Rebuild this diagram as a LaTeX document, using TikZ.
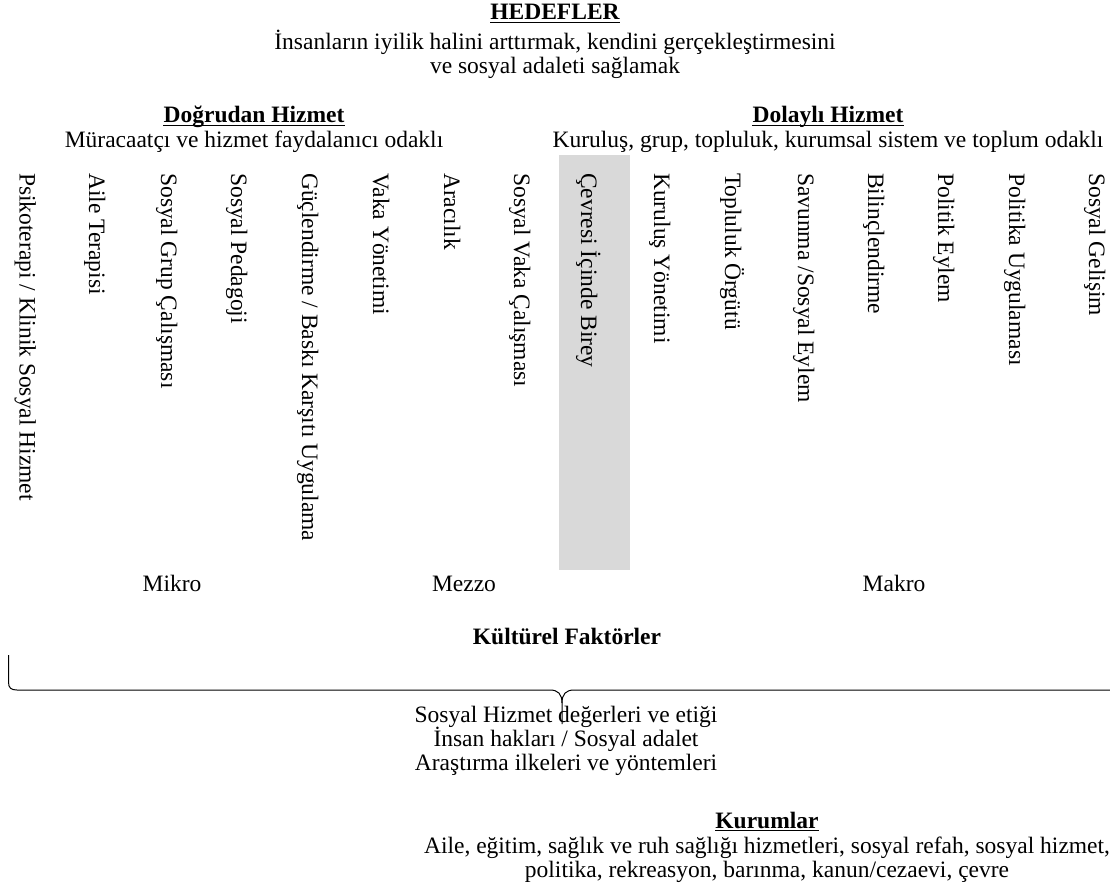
\documentclass[tikz,border=0pt]{standalone}
\usepackage{fontspec}
\setmainfont{Liberation Serif}
\definecolor{boxgray}{RGB}{217,217,217}
\begin{document}
\begin{tikzpicture}[x=1pt,y=-1pt,
  txt/.style={inner sep=0pt, anchor=base, font=\fontsize{23.5}{24}\selectfont},
  head/.style={inner sep=0pt, anchor=base, font=\fontsize{23.5}{24}\selectfont\bfseries},
  vlab/.style={inner sep=0pt, anchor=base west, rotate=-90, font=\fontsize{23.5}{24}\selectfont},
  uline/.style={draw=black, line width=1.1pt},
  brace/.style={draw=black, line width=1pt}]
\useasboundingbox (0,0) rectangle (1110,890);
% goals
\node[head] (hed) at (555,20) {HEDEFLER};
\node[txt] (hed1) at (555,50) {İnsanların iyilik halini arttırmak, kendini gerçekleştirmesini};
\node[txt] (hed2) at (555,74) {ve sosyal adaleti sağlamak};
% service headers
\node[head] (dog) at (254,123) {Doğrudan Hizmet};
\node[txt] (dog1) at (254,148) {Müracaatçı ve hizmet faydalanıcı odaklı};
\node[head] (dol) at (828,123) {Dolaylı Hizmet};
\node[txt] (dol1) at (828,148) {Kuruluş, grup, topluluk, kurumsal sistem ve toplum odaklı};
% underlines
\foreach \n in {hed,dog,dol}
  \draw[uline] ([yshift=-2.5pt]\n.base west) -- ([yshift=-2.5pt]\n.base east);
% gray box
\fill[boxgray] (559,155) rectangle (630,570);
% vertical labels
\node[vlab] (v1) at (19.7,173) {Psikoterapi / Klinik Sosyal Hizmet};
\node[vlab] (v2) at (89,173) {Aile Terapisi};
\node[vlab] (v3) at (161,173) {Sosyal Grup Çalışması};
\node[vlab] (v4) at (231,173) {Sosyal Pedagoji};
\node[vlab] (v5) at (302,173) {Güçlendirme / Baskı Karşıtı Uygulama};
\node[vlab] (v6) at (373,173) {Vaka Yönetimi};
\node[vlab] (v7) at (444,173) {Aracılık};
\node[vlab] (v8) at (514,173) {Sosyal Vaka Çalışması};
\node[vlab] (v9) at (581,173) {Çevresi İçinde Birey};
\node[vlab] (v10) at (654,173) {Kuruluş Yönetimi};
\node[vlab] (v11) at (725,173) {Topluluk Örgütü};
\node[vlab] (v12) at (798,173) {Savunma /Sosyal Eylem};
\node[vlab] (v13) at (868,173) {Bilinçlendirme};
\node[vlab] (v14) at (938,173) {Politik Eylem};
\node[vlab] (v15) at (1009,173) {Politika Uygulaması};
\node[vlab] (v16) at (1089,173) {Sosyal Gelişim};
% levels
\node[txt] (mikro) at (172,591) {Mikro};
\node[txt] (mezzo) at (464,591) {Mezzo};
\node[txt] (makro) at (894,591) {Makro};
\node[head] (kult) at (567,644) {Kültürel Faktörler};
% brace
\coordinate (bl) at (8.5,655);
\coordinate (bt) at (562,724);
\coordinate (br) at (1110,690);
\draw[brace] (bl) -- (8.5,682) .. controls (8.5,688) and (11,690) .. (17,690)
  -- (550,690) .. controls (558,690) and (562,694) .. (562,703) -- (bt);
\draw[brace] (br) -- (574,690) .. controls (566,690) and (562,694) .. (562,703);
% values
\node[txt] (val1) at (566,722) {Sosyal Hizmet değerleri ve etiği};
\node[txt] (val2) at (566,746) {İnsan hakları / Sosyal adalet};
\node[txt] (val3) at (566,770) {Araştırma ilkeleri ve yöntemleri};
% institutions
\node[head] (kur) at (767,828) {Kurumlar};
\draw[uline] ([yshift=-2.5pt]kur.base west) -- ([yshift=-2.5pt]kur.base east);
\node[txt] (kur1) at (767,853) {Aile, eğitim, sağlık ve ruh sağlığı hizmetleri, sosyal refah, sosyal hizmet,};
\node[txt] (kur2) at (767,877) {politika, rekreasyon, barınma, kanun/cezaevi, çevre};
\end{tikzpicture}
\end{document}
